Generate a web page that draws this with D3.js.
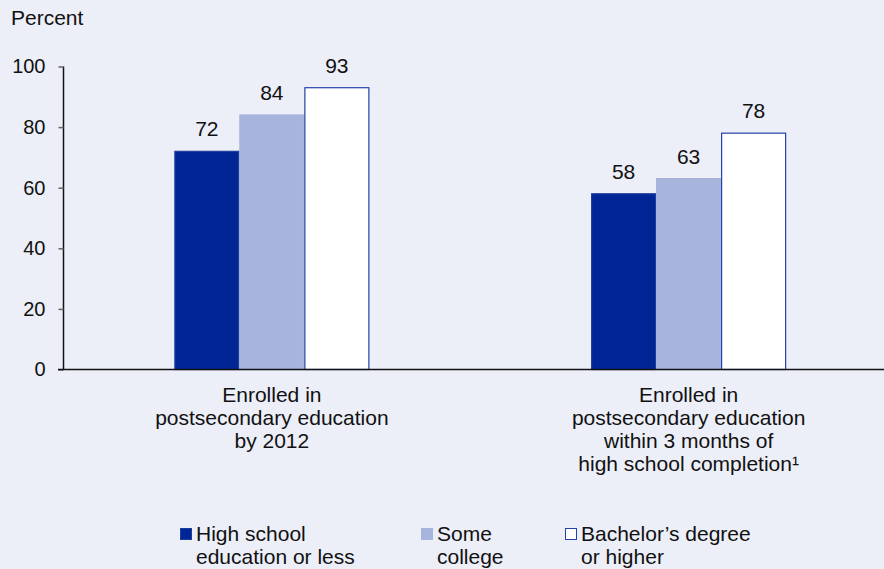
<!DOCTYPE html>
<html>
<head>
<meta charset="utf-8">
<script src="https://cdn.jsdelivr.net/npm/d3@7"></script>
<style>
  body { margin: 0; background: #eceef8; }
  svg { display: block; font-family: "Liberation Sans", Arial, sans-serif; }
</style>
</head>
<body>
<svg width="884" height="569"></svg>
<script>
  var categories = [
    ["Enrolled in", "postsecondary education", "by 2012"],
    ["Enrolled in", "postsecondary education", "within 3 months of", "high school completion\u00b9"]
  ];
  var seriesNames = [
    ["High school", "education or less"],
    ["Some", "college"],
    ["Bachelor\u2019s degree", "or higher"]
  ];
  var highSchool = [72, 58];
  var someCollege = [84, 63];
  var bachelors = [93, 78];
  var yTicks = [0, 20, 40, 60, 80, 100];

  var series = [highSchool, someCollege, bachelors];
  var fills = ["#002594", "#a7b4dc", "#ffffff"];
  var strokes = ["#1d3f9c", "#a7b4dc", "#2342a8"];

  var svg = d3.select("svg");
  // note: "top" would clash with window.top, so use plot* names
  var plotLeft = 63.5, plotRight = 897, plotTop = 66.5, plotBottom = 369.5;

  var x0 = d3.scaleBand().domain(d3.range(categories.length)).range([plotLeft, plotRight]);
  var x1 = d3.scaleBand().domain(d3.range(series.length)).range([0, 195]);
  var y = d3.scaleLinear().domain([0, 100]).range([plotBottom, plotTop]);
  var groupOffset = (x0.bandwidth() - 195) / 2;

  svg.append("text").attr("x", 11).attr("y", 25)
      .attr("font-size", 21).attr("fill", "#111").text("Percent");

  var yAxis = svg.append("g").attr("transform", "translate(" + plotLeft + ",0)")
      .call(d3.axisLeft(y).tickValues(yTicks).tickSize(5).tickPadding(13));
  yAxis.select(".domain").attr("stroke", "#111").attr("stroke-width", 1.5)
      .attr("d", "M0," + plotTop + "V" + plotBottom);
  yAxis.selectAll(".tick line").attr("stroke", "#666").attr("stroke-width", 1.5);
  yAxis.selectAll(".tick text").attr("font-size", 20).attr("fill", "#111")
      .attr("font-family", "Liberation Sans, Arial, sans-serif");

  series.forEach(function (vals, s) {
    svg.selectAll("rect.s" + s).data(vals).enter()
        .append("rect")
        .attr("class", "s" + s)
        .attr("x", function (d, i) { return x0(i) + groupOffset + x1(s) + 0.5; })
        .attr("y", function (d) { return y(d); })
        .attr("width", x1.bandwidth() - 1)
        .attr("height", function (d) { return plotBottom - y(d); })
        .attr("fill", fills[s])
        .attr("stroke", strokes[s])
        .attr("stroke-width", 1.2);

    svg.selectAll("text.v" + s).data(vals).enter()
        .append("text")
        .attr("class", "v" + s)
        .attr("x", function (d, i) { return x0(i) + groupOffset + x1(s) + x1.bandwidth() / 2; })
        .attr("y", function (d) { return y(d) - 15; })
        .attr("text-anchor", "middle")
        .attr("font-size", 21)
        .attr("fill", "#111")
        .text(function (d) { return d; });
  });

  svg.append("line")
      .attr("x1", 58).attr("x2", 884)
      .attr("y1", plotBottom).attr("y2", plotBottom)
      .attr("stroke", "#111").attr("stroke-width", 1.5);

  categories.forEach(function (lines, i) {
    var cx = x0(i) + x0.bandwidth() / 2;
    var t = svg.append("text")
        .attr("text-anchor", "middle")
        .attr("font-size", 21)
        .attr("fill", "#111");
    lines.forEach(function (line, j) {
      t.append("tspan").attr("x", cx).attr("y", 402 + j * 23).text(line);
    });
  });

  var legendX = [180, 421, 565];
  seriesNames.forEach(function (lines, s) {
    svg.append("rect")
        .attr("x", legendX[s] + 0.5).attr("y", 528.5)
        .attr("width", 11).attr("height", 11)
        .attr("fill", fills[s]).attr("stroke", strokes[s]).attr("stroke-width", 1);
    var t = svg.append("text")
        .attr("font-size", 21).attr("fill", "#111");
    lines.forEach(function (line, j) {
      t.append("tspan").attr("x", legendX[s] + 16).attr("y", 541 + j * 23).text(line);
    });
  });
</script>
</body>
</html>
